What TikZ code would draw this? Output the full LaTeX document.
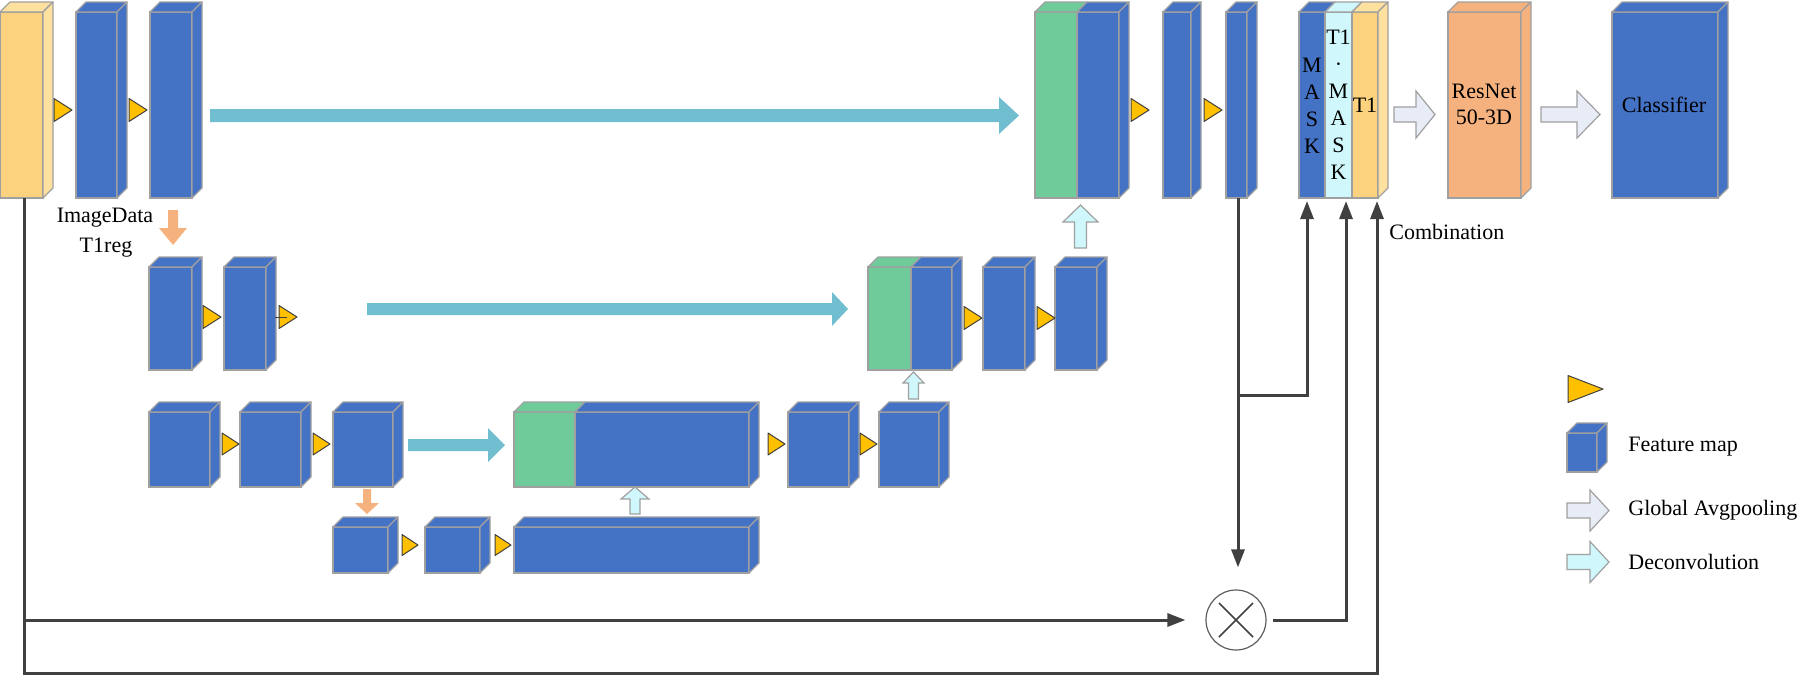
\documentclass[tikz,border=0pt]{standalone}
\usepackage{fontspec}
\setmainfont{Liberation Serif}
\usetikzlibrary{arrows.meta,shapes.geometric}
\definecolor{fblue}{HTML}{4472C4}
\definecolor{fyel}{HTML}{FDD27E}
\definecolor{fyell}{HTML}{FEE09F}
\definecolor{fgreen}{HTML}{70CB9B}
\definecolor{cskip}{HTML}{72BED1}
\definecolor{lcyan}{HTML}{D0F7FC}
\definecolor{forange}{HTML}{F6B27E}
\definecolor{lgrey}{HTML}{E7ECF7}
\definecolor{ctri}{HTML}{FFC000}
\definecolor{cedge}{HTML}{A0A0A0}
\definecolor{cconn}{HTML}{404040}
\tikzset{
  front/.style={draw=cedge, line width=0.6pt, inner sep=0pt, outer sep=0pt, anchor=north west},
  face/.style={draw=cedge, line width=0.6pt, line join=round},
  tristyle/.style={draw=black!75, fill=ctri, line width=0.5pt, line join=round},
  skiparr/.style={fill=cskip, draw=none},
  orarr/.style={fill=forange, draw=none},
  decarr/.style={fill=lcyan, draw=cedge, line width=0.6pt},
  greyarr/.style={fill=lgrey, draw=cedge, line width=0.6pt},
  conn/.style={draw=cconn, line width=1.5pt, -{Triangle[length=9pt,width=6.5pt]}, shorten >=1.5pt},
  lbl/.style={font=\fontsize{11}{13.5}\selectfont, inner sep=0pt, align=center},
}
\newcommand{\ffront}[6]{\node[front, fill=#6, minimum width={(#4-#2)*0.5pt}, minimum height={(#5-#3)*0.5pt}] (#1) at (#2,#3) {};}
\newcommand{\ftop}[2]{\draw[face, fill=#2] (#1.north west) -- ++(10,-10) -- ([shift={(10,-10)}]#1.north east) -- (#1.north east) -- cycle;}
\newcommand{\fside}[2]{\draw[face, fill=#2] (#1.north east) -- ++(10,-10) -- ([shift={(10,-10)}]#1.south east) -- (#1.south east) -- cycle;}
\newcommand{\fcube}[6]{\ffront{#1}{#2}{#3}{#4}{#5}{#6}\ftop{#1}{#6}\fside{#1}{#6}}
\newcommand{\ytri}[4]{\draw[tristyle] (#1,#2-#4/2) -- (#1+#3,#2) -- (#1,#2+#4/2) -- cycle;}
% x1, x2, yc, shaft half, head half, head length, style
\newcommand{\harr}[7]{\draw[#7] (#1,#3-#4) -- (#2-#6,#3-#4) -- (#2-#6,#3-#5) -- (#2,#3) -- (#2-#6,#3+#5) -- (#2-#6,#3+#4) -- (#1,#3+#4) -- cycle;}
% xc, ytail, ytip, shaft half, head half, head length, style
\newcommand{\darr}[7]{\draw[#7] (#1-#4,#2) -- (#1-#4,#3-#6) -- (#1-#5,#3-#6) -- (#1,#3) -- (#1+#5,#3-#6) -- (#1+#4,#3-#6) -- (#1+#4,#2) -- cycle;}
\newcommand{\uarr}[7]{\draw[#7] (#1-#4,#2) -- (#1-#4,#3+#6) -- (#1-#5,#3+#6) -- (#1,#3) -- (#1+#5,#3+#6) -- (#1+#4,#3+#6) -- (#1+#4,#2) -- cycle;}
\begin{document}
\begin{tikzpicture}[x=0.5pt,y=-0.5pt]
\useasboundingbox (0,0) rectangle (1800,677);
% ---------- row 1 ----------
\ffront{in}{0}{12}{43}{198}{fyel}\ftop{in}{fyell}\fside{in}{fyell}
\fcube{c1a}{76}{12}{117}{198}{fblue}
\fcube{c1b}{150}{12}{192}{198}{fblue}
\ffront{g1}{1035}{12}{1077}{198}{fgreen}\ftop{g1}{fgreen}
\fcube{u1}{1077}{12}{1119}{198}{fblue}
\fcube{c1c}{1163}{12}{1191}{198}{fblue}
\fcube{c1d}{1226}{12}{1247}{198}{fblue}
\ffront{mask}{1299}{12}{1325}{198}{fblue}\ftop{mask}{fblue}
\ffront{tm}{1325}{12}{1352}{198}{lcyan}\ftop{tm}{lcyan}
\ffront{t1}{1352}{12}{1378}{198}{fyel}\ftop{t1}{fyell}\fside{t1}{fyell}
\fcube{res}{1448}{12}{1521}{198}{forange}
\fcube{cls}{1612}{12}{1718}{198}{fblue}
% ---------- row 2 ----------
\fcube{c2a}{149}{267}{192}{370}{fblue}
\fcube{c2b}{224}{267}{266}{370}{fblue}
\ffront{g2}{868}{267}{911}{370}{fgreen}\ftop{g2}{fgreen}
\fcube{u2}{911}{267}{952}{370}{fblue}
\fcube{c2c}{983}{267}{1025}{370}{fblue}
\fcube{c2d}{1055}{267}{1097}{370}{fblue}
% ---------- row 3 ----------
\fcube{c3a}{149}{412}{210}{487}{fblue}
\fcube{c3b}{240}{412}{301}{487}{fblue}
\fcube{c3c}{333}{412}{393}{487}{fblue}
\ffront{g3}{514}{412}{575}{487}{fgreen}\ftop{g3}{fgreen}
\fcube{u3}{575}{412}{749}{487}{fblue}
\fcube{c3d}{788}{412}{849}{487}{fblue}
\fcube{c3e}{879}{412}{939}{487}{fblue}
% ---------- row 4 ----------
\fcube{c4a}{333}{527}{388}{573}{fblue}
\fcube{c4b}{425}{527}{480}{573}{fblue}
\fcube{c4c}{514}{527}{749}{573}{fblue}
% ---------- triangles ----------
\ytri{54}{110}{18}{23}\ytri{129}{110}{18}{23}\ytri{1131}{110}{18}{23}\ytri{1204}{110}{18}{23}
\ytri{203}{317}{18}{23}\ytri{279}{317}{18}{23}\ytri{964}{318}{18}{23}\ytri{1037}{318}{18}{23}
\draw[black!75, line width=0.5pt] (275,317) -- (287,317);
\ytri{222}{444}{17}{22}\ytri{313}{444}{17}{22}\ytri{768}{444}{17}{22}\ytri{860}{444}{17}{22}
\ytri{402}{545}{16}{21}\ytri{495}{545}{16}{21}
% ---------- block arrows ----------
\harr{210}{1019}{115.5}{6.5}{18.5}{20}{skiparr}
\harr{367}{848}{309}{6}{17}{16}{skiparr}
\harr{408}{505}{445}{6}{17}{17}{skiparr}
\darr{173}{210}{245}{5}{14}{17}{orarr}
\darr{367}{489}{514}{4}{12}{11}{orarr}
\uarr{1080.5}{248}{205}{6}{17.5}{17}{decarr}
\uarr{913.5}{399}{372}{5}{10.5}{11}{decarr}
\uarr{635}{514}{487}{5}{14}{12}{decarr}
\harr{1394}{1435}{114.5}{7.5}{23.5}{19}{greyarr}
\harr{1541}{1600}{114.5}{7.5}{23.5}{23}{greyarr}
% ---------- multiply node and connectors ----------
\node[circle, draw=cconn!85, line width=0.6pt, minimum size=30pt, inner sep=0pt] (mul) at (1236,620) {};
\draw[cconn, line width=0.8pt] ([shift={(-17,-17)}]mul.center) -- ([shift={(17,17)}]mul.center);
\draw[cconn, line width=0.8pt] ([shift={(-17,17)}]mul.center) -- ([shift={(17,-17)}]mul.center);
\coordinate (s0) at ([xshift=1.5pt]in.south);
\coordinate (s1) at ([xshift=0.75pt]c1d.south);
\coordinate (a1) at ([xshift=-2.5pt]mask.south);
\coordinate (a2) at ([xshift=3.75pt]tm.south);
\coordinate (a3) at ([xshift=6pt]t1.south);
\draw[conn] (s0) |- (a3 |- 0,673) -- (a3);
\draw[conn, shorten >=10pt] (s0 |- mul.west) -- (mul.west);
\draw[conn, shorten >=11pt] (s1) -- (s1 |- mul.north);
\draw[conn] (s1 |- 0,395) -| (a1);
\draw[conn, shorten <=3pt] (mul.east) -| (a2);
% ---------- labels ----------
\node[lbl] (limg) at (105,218) {ImageData};
\node[lbl] (lreg) at (106,248) {T1reg};
\node[lbl] (lmask) at (1312,105.5) {M\\A\\S\\K};
\node[lbl] (ltm) at (1338.5,105) {T1\\·\\M\\A\\S\\K};
\node[lbl] (lt1) at (1365,105) {T1};
\node[lbl, font=\fontsize{11}{13}\selectfont] (lres) at (1484,104) {ResNet\\50-3D};
\node[lbl] (lcls) at (1664,105) {Classifier};
\node[lbl, anchor=west] (lcomb) at (1389,232) {Combination};
% ---------- legend ----------
\ytri{1568}{389}{35}{27}
\fcube{lg}{1567}{433}{1597}{472}{fblue}
\harr{1567}{1609}{510.5}{7.5}{20.5}{19}{greyarr}
\harr{1567}{1609}{562}{7.5}{20.5}{19}{decarr}
\node[lbl, anchor=west] (lfm) at (1628,447) {Feature map};
\node[lbl, anchor=west] (lgap) at (1628,510) {Global Avgpooling};
\node[lbl, anchor=west] (ldec) at (1628,562) {Deconvolution};
\end{tikzpicture}
\end{document}
